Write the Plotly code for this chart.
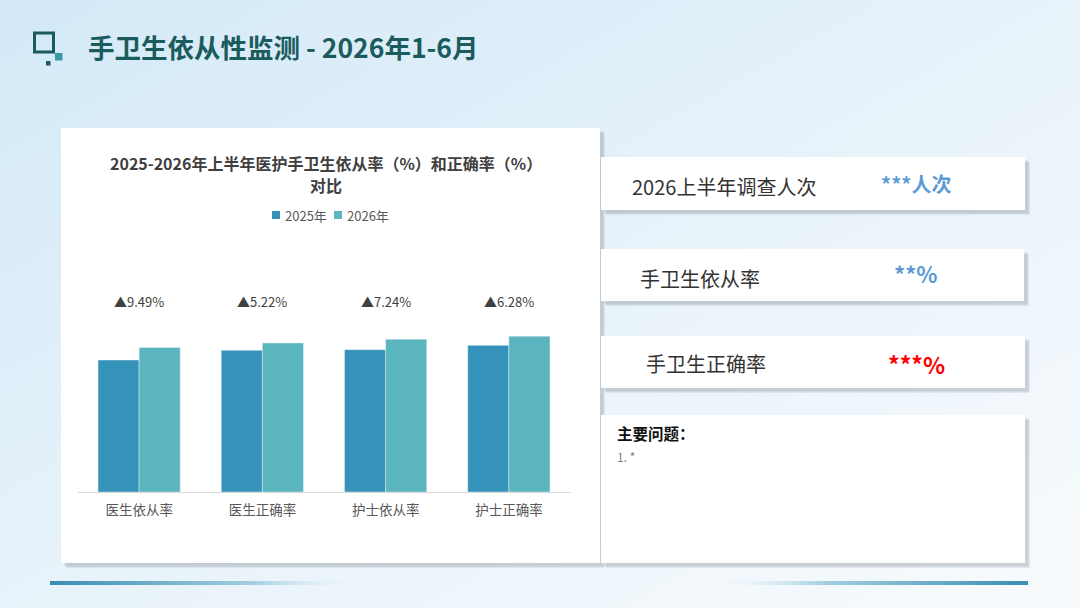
import base64
import plotly.graph_objects as go

# Chart data
categories = ['医生依从率', '医生正确率', '护士依从率', '护士正确率']
rate_2025 = [79.2, 85.0, 85.4, 88.0]
rate_2026 = [86.7, 89.4, 91.6, 93.5]
increase_labels = ['▲9.49%', '▲5.22%', '▲7.24%', '▲6.28%']
series_names = ['2025年', '2026年']
series_colors = ['#3592b8', '#5ab5be']

W, H = 1080, 608
FONT = 'Noto Sans CJK SC'


def px(x):
    return x / W


def py(y):
    return 1 - y / H


# Page background: soft blue gradient plus the two fading rules at the bottom
svg = f'''<svg xmlns="http://www.w3.org/2000/svg" width="{W}" height="{H}">
<defs>
<linearGradient id="bg" x1="0" y1="0" x2="1" y2="1">
<stop offset="0" stop-color="#d3e9f7"/><stop offset="0.55" stop-color="#e9f3fa"/><stop offset="1" stop-color="#f8fbfd"/>
</linearGradient>
<linearGradient id="l1" x1="0" y1="0" x2="1" y2="0">
<stop offset="0" stop-color="#3a8db4"/><stop offset="0.65" stop-color="#a3cfe1"/><stop offset="1" stop-color="#eaf4f8" stop-opacity="0"/>
</linearGradient>
<linearGradient id="l2" x1="0" y1="0" x2="1" y2="0">
<stop offset="0" stop-color="#eaf4f8" stop-opacity="0"/><stop offset="0.35" stop-color="#a3cfe1"/><stop offset="1" stop-color="#3a8db4"/>
</linearGradient>
</defs>
<rect width="{W}" height="{H}" fill="url(#bg)"/>
<rect x="50" y="581" width="312" height="4" fill="url(#l1)"/>
<rect x="716" y="581" width="312" height="4" fill="url(#l2)"/>
</svg>'''
bg_src = 'data:image/svg+xml;base64,' + base64.b64encode(svg.encode()).decode()

fig = go.Figure()
for name, vals, col in zip(series_names, [rate_2025, rate_2026], series_colors):
    fig.add_trace(go.Bar(x=categories, y=vals, name=name, marker_color=col, showlegend=False))

shapes = []


def card(x0, y0, x1, y1, shadow=5):
    # soft shadow first, then the white card
    for i, a in enumerate([0.09, 0.08, 0.07]):
        d = shadow - i
        shapes.append(dict(type='rect', xref='paper', yref='paper', layer='below',
                           x0=px(x0 + d), x1=px(x1 + d), y0=py(y1 + d), y1=py(y0 + d),
                           fillcolor=f'rgba(60,70,80,{a})', line_width=0))
    shapes.append(dict(type='rect', xref='paper', yref='paper', layer='below',
                       x0=px(x0), x1=px(x1), y0=py(y1), y1=py(y0),
                       fillcolor='white', line_width=0))


card(61, 128, 600, 563)
card(601, 157, 1025, 210)
card(601, 249, 1024, 301)
card(601, 336, 1025, 388)
card(601, 415, 1025, 563)

# title icon
shapes.append(dict(type='rect', xref='paper', yref='paper', x0=px(34.5), x1=px(53.5), y0=py(52), y1=py(33),
                   line=dict(color='#1b5b60', width=3), fillcolor='rgba(0,0,0,0)'))
shapes.append(dict(type='rect', xref='paper', yref='paper', x0=px(55), x1=px(62.5), y0=py(60.5), y1=py(53),
                   line_width=0, fillcolor='#3a9aa0'))
shapes.append(dict(type='rect', xref='paper', yref='paper', x0=px(46), x1=px(50.5), y0=py(65.5), y1=py(61),
                   line_width=0, fillcolor='#1b5b60'))

annotations = [
    dict(text='<b>手卫生依从性监测 - 2026年1-6月</b>', x=px(86), y=py(46), xanchor='left', yanchor='middle',
         font=dict(size=26.5, color='#1b5b5e', family=FONT)),
    dict(text='<b>2025-2026年上半年医护手卫生依从率（%）和正确率（%）</b>', x=px(326), y=py(163),
         xanchor='center', yanchor='middle', font=dict(size=16, color='#404040', family=FONT)),
    dict(text='<b>对比</b>', x=px(326), y=py(185),
         xanchor='center', yanchor='middle', font=dict(size=16, color='#404040', family=FONT)),
    dict(text='2026上半年调查人次', x=px(630), y=py(186), xanchor='left', yanchor='middle',
         font=dict(size=20, color='#333333', family=FONT)),
    dict(text='<b>***人次</b>', x=px(879), y=py(184), xanchor='left', yanchor='middle',
         font=dict(size=20, color='#5b9bd5', family=FONT)),
    dict(text='手卫生依从率', x=px(638), y=py(279), xanchor='left', yanchor='middle',
         font=dict(size=20, color='#333333', family=FONT)),
    dict(text='<b>**%</b>', x=px(892), y=py(273), xanchor='left', yanchor='middle',
         font=dict(size=22, color='#5b9bd5', family=FONT)),
    dict(text='手卫生正确率', x=px(644), y=py(363), xanchor='left', yanchor='middle',
         font=dict(size=20, color='#333333', family=FONT)),
    dict(text='<b>***%</b>', x=px(886), y=py(364), xanchor='left', yanchor='middle',
         font=dict(size=23, color='#ff0000', family=FONT)),
    dict(text='<b>主要问题：</b>', x=px(615), y=py(433), xanchor='left', yanchor='middle',
         font=dict(size=15.5, color='#111111', family=FONT)),
    dict(text='1. *', x=px(615), y=py(456), xanchor='left', yanchor='middle',
         font=dict(size=12, color='#808080', family=FONT)),
]

# manual compact legend
legend_x = [272, 334]
for lx, name, col in zip(legend_x, series_names, series_colors):
    shapes.append(dict(type='rect', xref='paper', yref='paper', x0=px(lx), x1=px(lx + 8),
                       y0=py(219), y1=py(211), line_width=0, fillcolor=col))
    annotations.append(dict(text=name, x=px(lx + 11), y=py(215), xanchor='left', yanchor='middle',
                            font=dict(size=13, color='#595959', family=FONT)))

for cat, lab in zip(categories, increase_labels):
    annotations.append(dict(text=lab, x=cat, xref='x', y=py(301), yref='paper', showarrow=False,
                            xanchor='center', yanchor='middle',
                            font=dict(size=13, color='#404040', family=FONT)))
for a in annotations:
    a.setdefault('xref', 'paper')
    a.setdefault('yref', 'paper')
    a['showarrow'] = False

fig.update_layout(
    width=W, height=H,
    margin=dict(l=0, r=0, t=0, b=0),
    paper_bgcolor='#eef6fb', plot_bgcolor='rgba(0,0,0,0)',
    font=dict(family=FONT),
    images=[dict(source=bg_src, xref='paper', yref='paper', x=0, y=1, sizex=1, sizey=1,
                 xanchor='left', yanchor='top', sizing='stretch', layer='below')],
    shapes=shapes,
    annotations=annotations,
    barmode='group', bargap=0.333, bargroupgap=0,
    showlegend=False,
    xaxis=dict(domain=[px(77.5), px(570.5)], showgrid=False, showline=True, linecolor='#d9d9d9',
               linewidth=1, ticks='outside', ticklen=6, tickcolor='rgba(0,0,0,0)',
               tickfont=dict(size=13.5, color='#595959', family=FONT)),
    yaxis=dict(domain=[py(492), py(300)], range=[0, 115.2], visible=False),
)

fig.write_html('out.html', config={'displayModeBar': False},
               post_script="document.body.style.margin='0';")
